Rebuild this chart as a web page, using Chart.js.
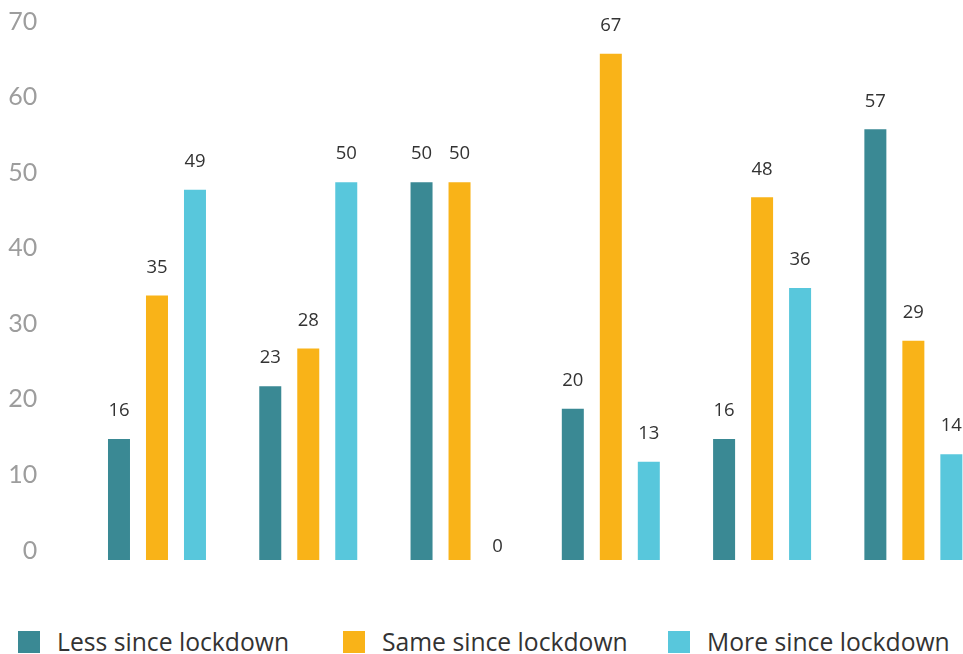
<!DOCTYPE html>
<html>
<head>
<meta charset="utf-8">
<script src="https://cdn.jsdelivr.net/npm/chart.js@4/dist/chart.umd.min.js"></script>
<style>
  html, body { margin: 0; padding: 0; background: #fff; width: 963px; height: 654px; overflow: hidden; }
  #wrap { position: relative; width: 1000px; height: 575px; }
  #legend { position: absolute; left: 18px; top: 625px; display: flex; font-family: "Open Sans", sans-serif; font-size: 24.7px; color: #333; }
  .item { width: 325px; display: flex; align-items: center; }
  .box { width: 22px; height: 22px; margin-right: 17px; }
</style>
</head>
<body>
<div id="wrap"><canvas id="chart"></canvas></div>
<div id="legend"></div>
<script>
// ─── Data ────────────────────────────────────────────────────
const categories = ['1', '2', '3', '4', '5', '6'];
const seriesNames = ['Less since lockdown', 'Same since lockdown', 'More since lockdown'];
const seriesColors = ['#3a8994', '#f9b318', '#58c7dc'];
const lessValues = [16, 23, 50, 20, 16, 57];
const sameValues = [35, 28, 50, 67, 48, 29];
const moreValues = [49, 50, 0, 13, 36, 14];
const yTicks = [0, 10, 20, 30, 40, 50, 60, 70];

const seriesValues = [lessValues, sameValues, moreValues];

// ─── Value labels above bars ─────────────────────────────────
const valueLabels = {
  id: 'valueLabels',
  afterDatasetsDraw(chart) {
    const ctx = chart.ctx;
    ctx.save();
    ctx.font = '18.5px "Open Sans", sans-serif';
    ctx.fillStyle = '#333';
    ctx.textAlign = 'center';
    ctx.textBaseline = 'middle';
    chart.data.datasets.forEach((ds, i) => {
      chart.getDatasetMeta(i).data.forEach((bar, j) => {
        const v = ds.data[j];
        const off = v === 0 ? 13 : 28;
        ctx.fillText(String(v), bar.x, bar.y - off);
      });
    });
    ctx.restore();
  }
};

new Chart(document.getElementById('chart'), {
  type: 'bar',
  data: {
    labels: categories,
    datasets: seriesNames.map((name, i) => ({
      label: name,
      data: seriesValues[i],
      backgroundColor: seriesColors[i],
      categoryPercentage: 0.7535,
      barPercentage: 0.579,
    })),
  },
  options: {
    responsive: true,
    maintainAspectRatio: false,
    animation: false,
    layout: { padding: { top: 31, bottom: 15, right: 11, left: 0 } },
    plugins: { legend: { display: false }, tooltip: { enabled: false } },
    scales: {
      x: { display: false },
      y: {
        min: 0, max: 70,
        afterFit: (s) => { s.width = 81.35; s.paddingTop = 0; s.paddingBottom = 0; },
        afterBuildTicks: (s) => { s.ticks = yTicks.map((v) => ({ value: v })); },
        grid: { display: false, drawTicks: false },
        border: { display: false },
        ticks: {
          color: '#9d9d9d',
          font: { family: 'Lato', size: 25 },
          padding: 44,
          labelOffset: -9.5,
        },
      },
    },
  },
  plugins: [valueLabels],
});

// ─── Legend ──────────────────────────────────────────────────
const legend = document.getElementById('legend');
seriesNames.forEach((name, i) => {
  const item = document.createElement('div');
  item.className = 'item';
  item.innerHTML = `<div class="box" style="background:${seriesColors[i]}"></div><span>${name}</span>`;
  legend.appendChild(item);
});
</script>
</body>
</html>
